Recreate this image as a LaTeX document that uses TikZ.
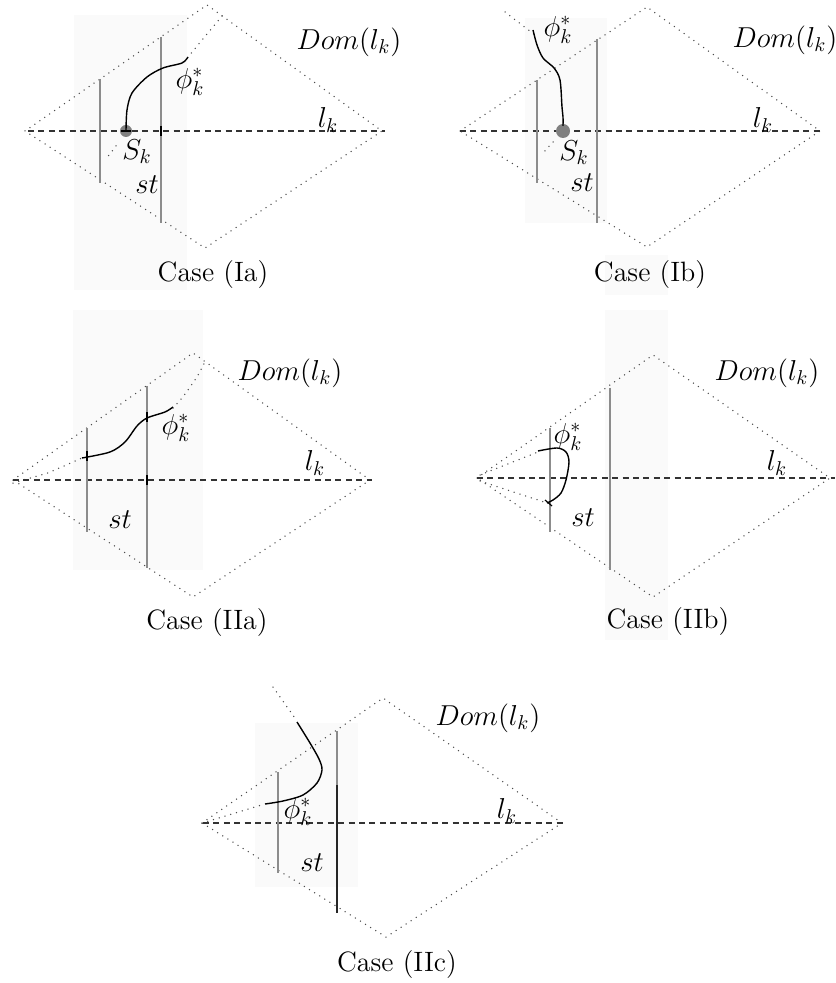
\documentclass[tikz,border=0pt]{standalone}
\begin{document}
\begin{tikzpicture}[x=0.5pt,y=-0.5pt,
  bgfill/.style={fill=black!2},
  dotline/.style={black!70, line width=0.75pt, dash pattern=on 0pt off 3pt, line cap=round},
  axisline/.style={black!80, line width=0.6pt, dash pattern=on 3pt off 2.2pt},
  vline/.style={black!45, line width=0.7pt},
  curveline/.style={black, line width=0.7pt},
  tick/.style={black, line width=0.6pt},
  sdot/.style={fill=black!50},
  lab/.style={font=\fontsize{14}{16}\selectfont, inner sep=0pt}]
\useasboundingbox (0,0) rectangle (835,983);

% ---------------- Case (Ia)
\fill[bgfill] (74,15) rectangle (187,290);
\draw[dotline] (25,131) -- (207,5) -- (382,131) -- (205,248) -- cycle;
\draw[dotline] (222,16) -- (188,57);
\draw[dotline] (116,146) -- (106,159);
\draw[axisline] (28,131) -- (385,131);
\draw[vline] (100,79) -- (100,183);
\draw[vline] (161,37) -- (161,223);
\fill[sdot] (126,131) circle[radius=3pt];
\draw[curveline] plot[smooth] coordinates {(126,131) (127,110) (132,93) (147,77) (163,68) (182,63) (188,57)};
\draw[tick] (121,131) -- (131,131);
\draw[tick] (161,126) -- (161,136);
\node[lab] (phiIa) at (190,82) {$\phi_k^*$};
\node[lab] (SIa) at (137,152) {$S_k$};
\node[lab] (stIa) at (147,185) {$st$};
\node[lab] (lIa) at (328,120) {$l_k$};
\node[lab] (DIa) at (349,42) {$Dom(l_k)$};
\node[lab] (cIa) at (213,275) {Case (Ia)};

% ---------------- Case (Ib)
\fill[bgfill] (525,18) rectangle (607,223);
\fill[bgfill] (605,255) rectangle (668,295);
\draw[dotline] (460,131) -- (647,7) -- (820,131) -- (647,247) -- cycle;
\draw[dotline] (505,12) -- (535,35);
\draw[dotline] (553,142) -- (544,152);
\draw[axisline] (460,131) -- (822,131);
\draw[vline] (537,80) -- (537,183);
\draw[vline] (597,39) -- (597,223);
\fill[sdot] (563,131) circle[radius=3.5pt];
\draw[curveline] plot[smooth] coordinates {(563,126) (563,117) (562,107) (560,80) (554,68) (543,58) (537,45) (533,30)};
\node[lab] (phiIb) at (558,30) {$\phi_k^*$};
\node[lab] (SIb) at (574,153) {$S_k$};
\node[lab] (stIb) at (582,183) {$st$};
\node[lab] (lIb) at (763,120) {$l_k$};
\node[lab] (DIb) at (785,40) {$Dom(l_k)$};
\node[lab] (cIb) at (650,275) {Case (Ib)};

% ---------------- Case (IIa)
\fill[bgfill] (73,310) rectangle (203,570);
\draw[dotline] (13,480) -- (193,353) -- (370,480) -- (193,597) -- cycle;
\draw[dotline] (13,483) -- (48,473) -- (82,458);
\draw[dotline] (173,408) -- (183,397) -- (197,377) -- (205,362);
\draw[axisline] (13,480) -- (372,480);
\draw[vline] (87,428) -- (87,532);
\draw[vline] (147,386) -- (147,568);
\draw[curveline] plot[smooth] coordinates {(82,458) (110,452) (125,442) (137,426) (147,418) (165,412) (173,407)};
\draw[tick] (87,451) -- (87,461);
\draw[tick] (147,412) -- (147,422);
\draw[tick] (147,475) -- (147,485);
\node[lab] (phiIIa) at (176,428) {$\phi_k^*$};
\node[lab] (stIIa) at (120,520) {$st$};
\node[lab] (lIIa) at (315,463) {$l_k$};
\node[lab] (DIIa) at (290,373) {$Dom(l_k)$};
\node[lab] (cIIa) at (207,623) {Case (IIa)};

% ---------------- Case (IIb)
\fill[bgfill] (605,310) rectangle (668,640);
\draw[dotline] (477,478) -- (653,355) -- (830,478) -- (653,597) -- cycle;
\draw[dotline] (480,475) -- (538,452);
\draw[dotline] (480,481) -- (547,503);
\draw[axisline] (477,478) -- (835,478);
\draw[vline] (550,428) -- (550,532);
\draw[vline] (610,388) -- (610,570);
\draw[curveline] plot[smooth] coordinates {(538,451) (557,448) (566,452) (569,462) (566,480) (561,493) (553,500) (547,503)};
\draw[tick] (545,500) -- (552,506);
\node[lab] (phiIIb) at (568,437) {$\phi_k^*$};
\node[lab] (stIIb) at (583,518) {$st$};
\node[lab] (lIIb) at (777,463) {$l_k$};
\node[lab] (DIIb) at (767,373) {$Dom(l_k)$};
\node[lab] (cIIb) at (668,622) {Case (IIb)};

% ---------------- Case (IIc)
\fill[bgfill] (255,723) rectangle (358,887);
\draw[dotline] (202,823) -- (383,698) -- (562,823) -- (386,937) -- cycle;
\draw[dotline] (273,687) -- (297,721);
\draw[dotline] (202,823) -- (265,804);
\draw[axisline] (203,823) -- (563,823);
\draw[vline] (278,772) -- (278,873);
\draw[vline] (337,731) -- (337,913);
\draw[black!85, line width=0.7pt] (337,785) -- (337,913);
\draw[curveline] plot[smooth] coordinates {(297,722) (310,743) (319,759) (322,770) (317,783) (303,795) (283,801) (265,804)};
\node[lab] (phiIIc) at (298,812) {$\phi_k^*$};
\node[lab] (stIIc) at (312,863) {$st$};
\node[lab] (lIIc) at (507,811) {$l_k$};
\node[lab] (DIIc) at (488,718) {$Dom(l_k)$};
\node[lab] (cIIc) at (397,965) {Case (IIc)};
\end{tikzpicture}
\end{document}
